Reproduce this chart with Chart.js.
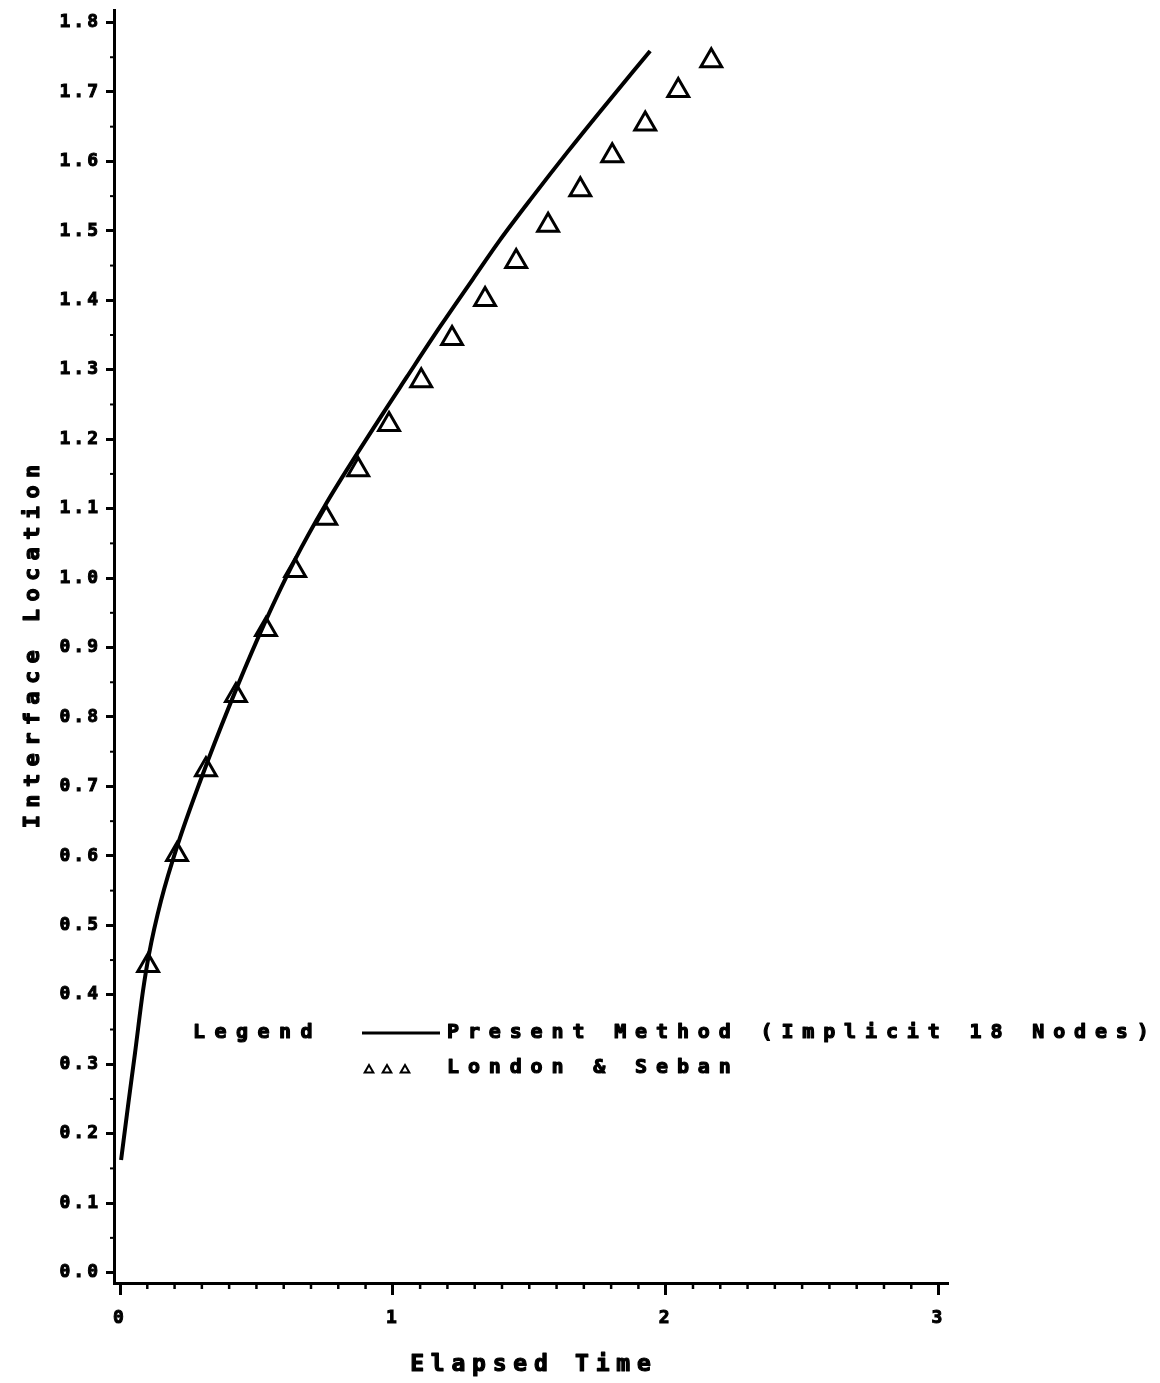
<!DOCTYPE html>
<html>
<head>
<meta charset="utf-8">
<script src="https://cdn.jsdelivr.net/npm/chart.js@4/dist/chart.umd.min.js"></script>
<style>
html, body { margin: 0; padding: 0; background: #fff; }
#wrap { position: relative; width: 1160px; height: 1383px; }
</style>
</head>
<body>
<div id="wrap"><canvas id="chart" width="1160" height="1383"></canvas></div>
<script>
// Interface location vs elapsed time: present method against London & Seban

const methodTime = [0.004, 0.031, 0.055, 0.084, 0.106, 0.150, 0.213, 0.323, 0.429, 0.532,
                    0.642, 0.752, 0.929, 1.052, 1.173, 1.294, 1.393, 1.514, 1.639, 1.760, 1.943];
const methodLoc  = [0.162, 0.245, 0.316, 0.405, 0.458, 0.535, 0.618, 0.738, 0.843, 0.937,
                    1.027, 1.105, 1.216, 1.290, 1.362, 1.431, 1.487, 1.550, 1.613, 1.672, 1.759];

const londonTime = [0.103, 0.209, 0.315, 0.425, 0.535, 0.642, 0.756, 0.873, 0.986, 1.104,
                    1.217, 1.338, 1.452, 1.569, 1.687, 1.804, 1.925, 2.046, 2.167];
const londonLoc  = [0.442, 0.602, 0.724, 0.831, 0.926, 1.011, 1.086, 1.156, 1.221, 1.284,
                    1.345, 1.401, 1.456, 1.508, 1.559, 1.608, 1.654, 1.702, 1.745];

const xTickValues = [0, 1, 2, 3];
const yTickValues = [0.0, 0.1, 0.2, 0.3, 0.4, 0.5, 0.6, 0.7, 0.8, 0.9,
                     1.0, 1.1, 1.2, 1.3, 1.4, 1.5, 1.6, 1.7, 1.8];

const xTitle = "Elapsed Time";
const yTitle = "Interface Location";
const legendTitle = "Legend";
const legendLabels = ["Present Method (Implicit 18 Nodes)", "London & Seban"];

const MONO = '"DejaVu Sans Mono", "Liberation Mono", monospace';

// draw text with a fixed character pitch, like the old plotter font
function plotText(ctx, text, x, y, size, pitch, align) {
  const gap = pitch - size * 0.602;
  ctx.save();
  ctx.font = "bold " + size + "px " + MONO;
  ctx.letterSpacing = gap + "px";
  ctx.fillStyle = "#000";
  ctx.strokeStyle = "#000";
  ctx.lineWidth = 1.2;
  ctx.lineJoin = "round";
  ctx.textAlign = align;
  ctx.textBaseline = "middle";
  const tx = align === "center" ? x + gap / 2 : x;
  ctx.fillText(text, tx, y);
  ctx.strokeText(text, tx, y);
  ctx.restore();
}

function smallTriangle(ctx, x, y, r) {
  ctx.beginPath();
  ctx.moveTo(x, y - r);
  ctx.lineTo(x + r * 0.866, y + r * 0.5);
  ctx.lineTo(x - r * 0.866, y + r * 0.5);
  ctx.closePath();
  ctx.stroke();
}

const plotterPlugin = {
  id: "plotter",
  beforeDraw(chart) {
    const ctx = chart.ctx;
    ctx.save();
    ctx.fillStyle = "#fff";
    ctx.fillRect(0, 0, chart.width, chart.height);
    ctx.restore();
    ctx.letterSpacing = "3px";
  },
  afterDraw(chart) {
    const ctx = chart.ctx;
    const xs = chart.scales.x, ys = chart.scales.y;
    ctx.save();
    ctx.letterSpacing = "0px";
    ctx.strokeStyle = "#000";
    ctx.lineCap = "butt";

    // minor ticks
    ctx.lineWidth = 2.5;
    for (let i = 1; i < 30; i++) {
      if (i % 10 === 0) continue;
      const px = xs.getPixelForValue(i / 10);
      ctx.beginPath();
      ctx.moveTo(px, xs.top);
      ctx.lineTo(px, xs.top + 6);
      ctx.stroke();
    }
    ctx.lineWidth = 2;
    for (let i = 0; i < 18; i++) {
      const py = ys.getPixelForValue(i / 10 + 0.05);
      ctx.beginPath();
      ctx.moveTo(ys.right - 4, py);
      ctx.lineTo(ys.right, py);
      ctx.stroke();
    }

    // axis titles
    plotText(ctx, xTitle, (xs.left + xs.right) / 2, 1365, 23, 20.6, "center");
    ctx.save();
    ctx.translate(33, (ys.top + ys.bottom) / 2);
    ctx.rotate(-Math.PI / 2);
    plotText(ctx, yTitle, 0, 0, 22, 20.6, "center");
    ctx.restore();

    // legend
    plotText(ctx, legendTitle, 193, 1033, 20, 21.5, "left");
    ctx.lineWidth = 3;
    ctx.beginPath();
    ctx.moveTo(362, 1033);
    ctx.lineTo(440, 1033);
    ctx.stroke();
    plotText(ctx, legendLabels[0], 447, 1033, 20, 20.9, "left");
    ctx.lineWidth = 2;
    [369, 387, 405].forEach(tx => smallTriangle(ctx, tx, 1070, 5));
    plotText(ctx, legendLabels[1], 447, 1068, 20, 20.9, "left");
    ctx.restore();
  }
};

const xTickFont = { family: MONO, size: 18, weight: "bold" };
// small line height keeps the end labels from pushing the plot area inward
const yTickFont = { family: MONO, size: 18, weight: "bold", lineHeight: 0.5 };

new Chart(document.getElementById("chart"), {
  type: "scatter",
  data: {
    datasets: [
      {
        label: legendLabels[0],
        data: methodTime.map((t, i) => ({ x: t, y: methodLoc[i] })),
        showLine: true,
        borderColor: "#000",
        borderWidth: 4,
        pointRadius: 0,
        cubicInterpolationMode: "monotone",
        fill: false
      },
      {
        label: legendLabels[1],
        data: londonTime.map((t, i) => ({ x: t, y: londonLoc[i] })),
        showLine: false,
        pointStyle: "triangle",
        pointRadius: 12,
        borderColor: "#000",
        backgroundColor: "rgba(0,0,0,0)",
        borderWidth: 3
      }
    ]
  },
  options: {
    responsive: false,
    animation: false,
    devicePixelRatio: 1,
    layout: { autoPadding: false, padding: { top: 10, right: 213, left: 0, bottom: 0 } },
    plugins: { legend: { display: false }, tooltip: { enabled: false } },
    scales: {
      x: {
        type: "linear",
        min: -0.022,
        max: 3.031,
        afterBuildTicks: s => { s.ticks = xTickValues.map(v => ({ value: v })); },
        afterFit: s => { s.height = 100; s.paddingLeft = 0; s.paddingRight = 0; },
        ticks: { color: "#000", font: xTickFont, padding: 13, maxRotation: 0, autoSkip: false,
                 textStrokeColor: "#000", textStrokeWidth: 1,
                 callback: v => String(v) },
        grid: { drawOnChartArea: false, drawTicks: true, tickLength: 12, tickColor: "#000",
                tickWidth: 3, lineWidth: 3, color: "#000" },
        border: { display: true, color: "#000", width: 3 }
      },
      y: {
        type: "linear",
        min: -0.015,
        max: 1.818,
        afterBuildTicks: s => { s.ticks = yTickValues.map(v => ({ value: v })); },
        afterFit: s => { s.width = 114; s.paddingTop = 0; s.paddingBottom = 0; },
        ticks: { color: "#000", font: yTickFont, padding: 5, autoSkip: false,
                 textStrokeColor: "#000", textStrokeWidth: 1,
                 callback: v => v.toFixed(1) },
        grid: { drawOnChartArea: false, drawTicks: true, tickLength: 8, tickColor: "#000",
                tickWidth: 3, lineWidth: 3, color: "#000" },
        border: { display: true, color: "#000", width: 3 }
      }
    }
  },
  plugins: [plotterPlugin]
});
</script>
</body>
</html>
